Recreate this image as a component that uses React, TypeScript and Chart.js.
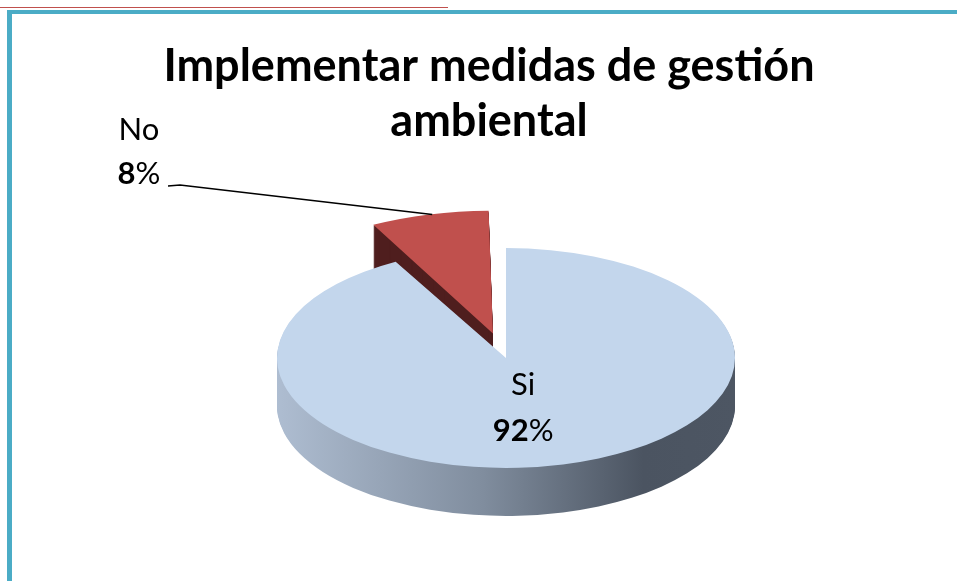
import React, { useEffect, useRef } from 'react';
import { Chart, registerables } from 'chart.js';

Chart.register(...registerables);

// ---- data ----
const TITLE_LINES = ['Implementar medidas de gestión', 'ambiental'];
const CATEGORIES = ['Si', 'No'];
const VALUES = [92, 8];
const PERCENT_TEXT = ['92', '8'];
const TOP_COLORS = ['#c3d6ec', '#c0504d'];
const SIDE_RED = '#4f1e1e';
const EXPLODE = [0, 210];

// ---- projection / layout constants ----
const CX = 506;
const CY = 358;
const SQUASH = 0.48;
const DEPTH = 48;
const RADIUS = 229;
const FONT = 'Lato, "Open Sans", sans-serif';
const LABEL_SIZE = 31;
const NO_LABEL = { x: 139, y: 152 };
const SI_LABEL_FRAC = { x: 0.3, y: 0.47 };

function applyProj(ctx: CanvasRenderingContext2D, a0: any) {
  ctx.translate(CX, CY);
  ctx.scale(1, SQUASH);
  ctx.translate(-a0.x, -a0.y);
}
function toScreen(a0: any, x: number, y: number) {
  return { x: CX + (x - a0.x), y: CY + (y - a0.y) * SQUASH };
}

function drawMixed(ctx: CanvasRenderingContext2D, bold: string, normal: string, cx: number, cy: number) {
  ctx.font = `bold ${LABEL_SIZE}px ${FONT}`;
  const w1 = ctx.measureText(bold).width;
  ctx.font = `${LABEL_SIZE}px ${FONT}`;
  const w2 = ctx.measureText(normal).width;
  const x = cx - (w1 + w2) / 2;
  ctx.textAlign = 'left';
  ctx.textBaseline = 'middle';
  ctx.fillStyle = '#000';
  ctx.font = `bold ${LABEL_SIZE}px ${FONT}`;
  ctx.fillText(bold, x, cy);
  ctx.font = `${LABEL_SIZE}px ${FONT}`;
  ctx.fillText(normal, x + w1, cy);
}

const pie3d = {
  id: 'pie3d',
  beforeDatasetsDraw(chart: any) {
    const ctx = chart.ctx as CanvasRenderingContext2D;
    const arcs = chart.getDatasetMeta(0).data;
    if (!arcs.length) return;
    const a0 = arcs[0];
    const grad = ctx.createLinearGradient(a0.x - RADIUS, 0, a0.x + RADIUS, 0);
    grad.addColorStop(0, '#aebdd1');
    grad.addColorStop(0.45, '#808d9e');
    grad.addColorStop(0.8, '#4b5461');
    grad.addColorStop(1, '#4d5663');
    for (let d = DEPTH; d >= 1; d--) {
      arcs.forEach((arc: any, i: number) => {
        ctx.save();
        ctx.translate(0, d);
        applyProj(ctx, a0);
        const saved = arc.options;
        arc.options = Object.assign(Object.create(saved), {
          backgroundColor: i === 0 ? grad : SIDE_RED,
          borderWidth: 0,
        });
        arc.draw(ctx);
        arc.options = saved;
        ctx.restore();
      });
    }
  },
  beforeDatasetDraw(chart: any) {
    const ctx = chart.ctx;
    const a0 = chart.getDatasetMeta(0).data[0];
    ctx.save();
    applyProj(ctx, a0);
  },
  afterDatasetDraw(chart: any) {
    chart.ctx.restore();
  },
  afterDatasetsDraw(chart: any) {
    const ctx = chart.ctx as CanvasRenderingContext2D;
    const arcs = chart.getDatasetMeta(0).data;
    if (!arcs.length) return;
    const a0 = arcs[0];
    // Si label (inside)
    {
      const arc = arcs[0];
      const mid = (arc.startAngle + arc.endAngle) / 2;
      const p = toScreen(
        a0,
        arc.x + Math.cos(mid) * arc.outerRadius * SI_LABEL_FRAC.x,
        arc.y + Math.sin(mid) * arc.outerRadius * SI_LABEL_FRAC.y
      );
      ctx.save();
      ctx.font = `${LABEL_SIZE}px ${FONT}`;
      ctx.fillStyle = '#000';
      ctx.textAlign = 'center';
      ctx.textBaseline = 'middle';
      ctx.fillText(CATEGORIES[0], p.x, p.y - 23);
      drawMixed(ctx, PERCENT_TEXT[0], '%', p.x, p.y + 23);
      ctx.restore();
    }
    // No label (outside, with leader line)
    {
      const arc = arcs[1];
      const mid = (arc.startAngle + arc.endAngle) / 2;
      const circ = arc.endAngle - arc.startAngle;
      const fix = 1 - Math.sin(Math.min(Math.PI, circ));
      const t = (EXPLODE[1] / 4) * (1 + fix);
      const end = toScreen(
        a0,
        arc.x + Math.cos(mid) * (t + arc.outerRadius),
        arc.y + Math.sin(mid) * (t + arc.outerRadius)
      );
      ctx.save();
      ctx.strokeStyle = '#000';
      ctx.lineWidth = 1.5;
      ctx.beginPath();
      ctx.moveTo(NO_LABEL.x + 29, NO_LABEL.y + 34);
      ctx.lineTo(NO_LABEL.x + 41, NO_LABEL.y + 33);
      ctx.lineTo(end.x + 3, end.y);
      ctx.stroke();
      ctx.font = `${LABEL_SIZE}px ${FONT}`;
      ctx.fillStyle = '#000';
      ctx.textAlign = 'center';
      ctx.textBaseline = 'middle';
      ctx.fillText(CATEGORIES[1], NO_LABEL.x, NO_LABEL.y - 22);
      drawMixed(ctx, PERCENT_TEXT[1], '%', NO_LABEL.x, NO_LABEL.y + 22);
      ctx.restore();
    }
  },
};

export default function App() {
  const ref = useRef<HTMLCanvasElement>(null);
  useEffect(() => {
    if (!ref.current) return;
    const chart = new Chart(ref.current, {
      type: 'pie',
      data: {
        labels: CATEGORIES,
        datasets: [
          {
            data: VALUES,
            backgroundColor: TOP_COLORS,
            borderWidth: 0,
            offset: EXPLODE,
            radius: RADIUS,
            clip: false,
          } as any,
        ],
      },
      options: {
        responsive: false,
        animation: false,
        layout: { padding: { top: 30, left: 21, right: 0, bottom: 0 } },
        plugins: {
          legend: { display: false },
          tooltip: { enabled: false },
          title: {
            display: true,
            text: TITLE_LINES,
            color: '#000',
            font: { family: FONT, size: 45, weight: 'bold', lineHeight: 1.244 },
            padding: { top: 8, bottom: 10 },
          },
        },
      } as any,
      plugins: [pie3d],
    });
    return () => chart.destroy();
  }, []);
  return (
    <div style={{ position: 'absolute', left: 0, top: 0, width: 957, height: 581, background: '#fff', overflow: 'hidden' }}>
      <div style={{ position: 'absolute', left: 0, top: 7, width: 448, height: 1, background: '#c0504d' }} />
      <div
        style={{
          position: 'absolute',
          left: 7,
          top: 10,
          width: 957,
          height: 600,
          borderLeft: '5px solid #4bacc6',
          borderTop: '4px solid #4bacc6',
          boxSizing: 'border-box',
        }}
      />
      <canvas ref={ref} width={957} height={581} style={{ position: 'absolute', left: 0, top: 0 }} />
    </div>
  );
}
